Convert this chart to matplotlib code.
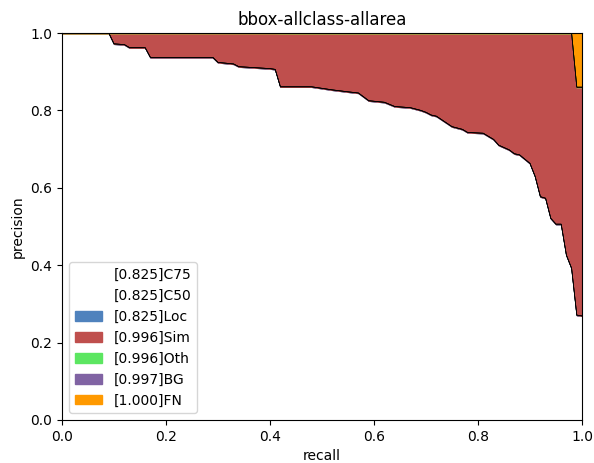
import numpy as np
import matplotlib
matplotlib.use("Agg")
import matplotlib.pyplot as plt

# recall points
recall = [0.00, 0.09, 0.10, 0.12, 0.13, 0.16, 0.17, 0.29, 0.30, 0.33,
          0.34, 0.40, 0.41, 0.42, 0.48, 0.50, 0.52, 0.55, 0.57, 0.59,
          0.62, 0.64, 0.67, 0.69, 0.70, 0.71, 0.72, 0.73, 0.75, 0.77,
          0.78, 0.81, 0.83, 0.84, 0.86, 0.87, 0.88, 0.90, 0.91, 0.92,
          0.93, 0.94, 0.95, 0.96, 0.97, 0.98, 0.99, 1.00]

# C75 / C50 / Loc share the same curve
prec_loc = [1.000, 1.000, 0.972, 0.970, 0.962, 0.962, 0.937, 0.937, 0.924, 0.920,
            0.913, 0.908, 0.906, 0.861, 0.861, 0.857, 0.853, 0.848, 0.845, 0.825,
            0.821, 0.810, 0.807, 0.800, 0.795, 0.788, 0.785, 0.776, 0.758, 0.751,
            0.743, 0.741, 0.725, 0.710, 0.698, 0.688, 0.685, 0.663, 0.629, 0.577,
            0.573, 0.521, 0.506, 0.506, 0.426, 0.392, 0.271, 0.269]
prec_c75 = prec_loc
prec_c50 = prec_loc
prec_sim = [1.0] * 13 + [0.999] * 33 + [0.86, 0.86]
prec_oth = [1.0] * 46 + [0.86, 0.86]
prec_bg = [1.0] * 46 + [0.86, 0.86]
prec_fn = [1.0] * 48

types = ["C75", "C50", "Loc", "Sim", "Oth", "BG", "FN"]
aps = [0.825, 0.825, 0.825, 0.996, 0.996, 0.997, 1.000]

cs = np.vstack([
    np.ones((2, 3)),
    np.array([0.31, 0.51, 0.74]),
    np.array([0.75, 0.31, 0.30]),
    np.array([0.36, 0.90, 0.38]),
    np.array([0.50, 0.39, 0.64]),
    np.array([1, 0.6, 0]),
])

rs = np.array(recall)
curves = [np.zeros(len(rs))] + [np.array(c) for c in
          (prec_c75, prec_c50, prec_loc, prec_sim, prec_oth, prec_bg, prec_fn)]

fig = plt.figure(figsize=(5.94, 4.63), dpi=100)
ax = plt.subplot(111)
fig.subplots_adjust(left=0.1044, right=0.9798, top=0.9287, bottom=0.0929)
for k in range(len(types)):
    ax.plot(rs, curves[k + 1], color=[0, 0, 0], linewidth=0.5)
    ax.fill_between(rs, curves[k], curves[k + 1], color=cs[k],
                    label=f"[{aps[k]:.3f}]" + types[k])
plt.xlabel("recall")
plt.ylabel("precision")
plt.xlim(0, 1.0)
plt.ylim(0, 1.0)
plt.title("bbox-allclass-allarea")
plt.legend(loc="lower left")
fig.savefig("out.png")
